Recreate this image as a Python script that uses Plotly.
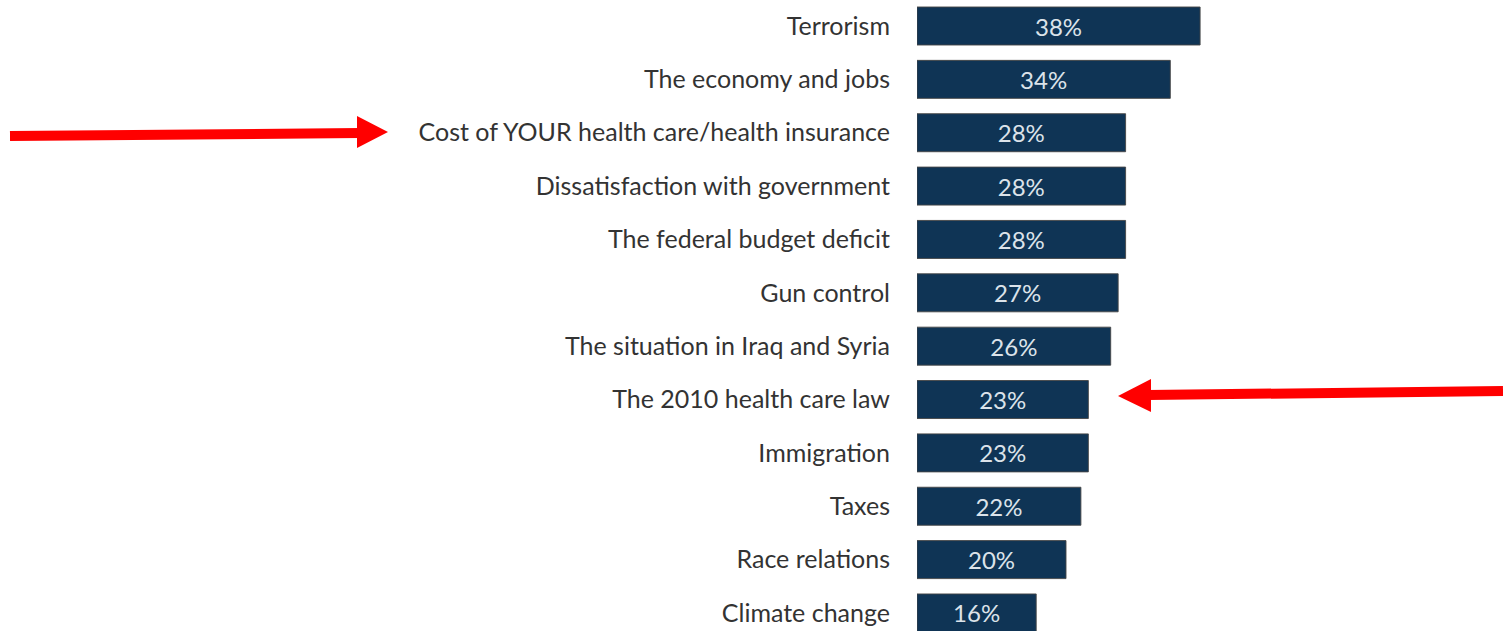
import plotly.graph_objects as go

categories = [
    "Terrorism",
    "The economy and jobs",
    "Cost of YOUR health care/health insurance",
    "Dissatisfaction with government",
    "The federal budget deficit",
    "Gun control",
    "The situation in Iraq and Syria",
    "The 2010 health care law",
    "Immigration",
    "Taxes",
    "Race relations",
    "Climate change",
]
values = [38, 34, 28, 28, 28, 27, 26, 23, 23, 22, 20, 16]
labels = [f"{v}%" for v in values]

W, H = 1503, 631
FONT = "Lato"

fig = go.Figure(
    go.Bar(
        x=values,
        y=categories,
        orientation="h",
        text=labels,
        textposition="inside",
        insidetextanchor="middle",
        textangle=0,
        textfont=dict(family=FONT, size=24, color="#dce3ea"),
        marker=dict(color="#0f3455", line=dict(color="rgba(70,70,70,0.9)", width=1)),
        width=0.712,
        hoverinfo="skip",
    )
)

px_per_pct = 7.45
x0_px = 917
fig.update_xaxes(
    domain=[x0_px / W, 1],
    range=[0, (W - x0_px) / px_per_pct],
    visible=False,
)
row0, step = 26, 53.36
fig.update_yaxes(
    domain=[0, 1],
    range=[(H - row0) / step, -row0 / step],
    showgrid=False,
    zeroline=False,
    showline=False,
    ticks="outside",
    ticklen=21,
    tickcolor="rgba(0,0,0,0)",
    tickfont=dict(family=FONT, size=25, color="#333333"),
)


def P(x, y):
    return x / W, 1 - y / H


shapes = []
RED = "#ff0000"
# arrow 1 (pointing right)
(ax0, ay0), (ax1, ay1) = P(10, 136), P(360, 133)
shapes.append(dict(type="line", xref="paper", yref="paper", x0=ax0, y0=ay0, x1=ax1, y1=ay1,
                   line=dict(color=RED, width=10)))
pts = [P(357, 116), P(388, 132), P(357, 148)]
shapes.append(dict(type="path", xref="paper", yref="paper",
                   path="M {} {} L {} {} L {} {} Z".format(*[c for p in pts for c in p]),
                   fillcolor=RED, line=dict(width=0)))
# arrow 2 (pointing left)
(bx0, by0), (bx1, by1) = P(1503, 391), P(1148, 395)
shapes.append(dict(type="line", xref="paper", yref="paper", x0=bx0, y0=by0, x1=bx1, y1=by1,
                   line=dict(color=RED, width=10)))
pts = [P(1151, 379), P(1118, 396), P(1151, 412)]
shapes.append(dict(type="path", xref="paper", yref="paper",
                   path="M {} {} L {} {} L {} {} Z".format(*[c for p in pts for c in p]),
                   fillcolor=RED, line=dict(width=0)))

fig.update_layout(
    width=W,
    height=H,
    margin=dict(l=0, r=0, t=0, b=0),
    paper_bgcolor="white",
    plot_bgcolor="white",
    showlegend=False,
    shapes=shapes,
    uniformtext=dict(minsize=24, mode="show"),
)

fig.write_html("out.html")
